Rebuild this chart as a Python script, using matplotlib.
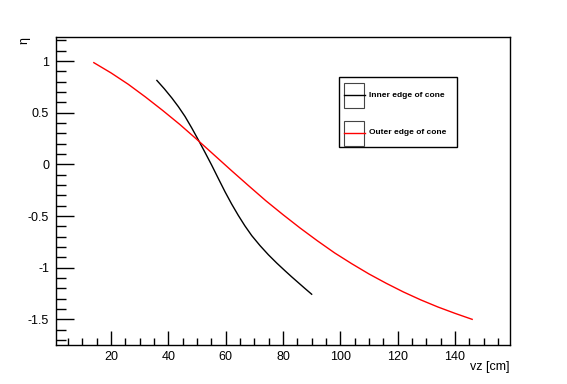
import matplotlib
matplotlib.use("Agg")
import matplotlib.pyplot as plt
from matplotlib.ticker import MultipleLocator
from matplotlib.patches import Rectangle
from matplotlib.lines import Line2D

plt.rcParams['font.family'] = ['Liberation Sans', 'DejaVu Sans']

# Inner edge of cone (black)
inner_vz = [36.0, 38.6, 41.2, 43.5, 45.8, 48.1, 50.45, 52.8, 55.1, 57.4, 59.8, 62.1,
            64.4, 66.7, 69.1, 72.0, 74.9, 77.8, 80.7, 83.0, 85.3, 87.6, 90.0]
inner_eta = [0.812, 0.731, 0.643, 0.558, 0.464, 0.355, 0.237, 0.115, -0.007, -0.135,
             -0.267, -0.385, -0.494, -0.595, -0.69, -0.787, -0.875, -0.955, -1.03,
             -1.088, -1.144, -1.200, -1.257]

# Outer edge of cone (red)
outer_vz = [14.0, 20.0, 26.0, 32.0, 38.0, 44.0, 50.0, 56.0, 62.0, 68.0, 74.0, 80.0,
            86.0, 92.0, 98.0, 104.0, 110.0, 116.0, 122.0, 128.0, 134.0, 140.0, 146.0]
outer_eta = [0.984, 0.885, 0.775, 0.652, 0.522, 0.386, 0.240, 0.09, -0.06, -0.207,
             -0.352, -0.487, -0.617, -0.740, -0.857, -0.962, -1.061, -1.151, -1.235,
             -1.311, -1.380, -1.442, -1.50]

legend_labels = ["Inner edge of cone", "Outer edge of cone"]
legend_colors = ["black", "red"]

W, H = 567, 384
fig = plt.figure(figsize=(W / 100, H / 100), dpi=100)
fig.patch.set_facecolor('white')
L, R, T, B = 56, 510, 37, 345
ax = fig.add_axes([L / W, (H - B) / H, (R - L) / W, (B - T) / H])

ax.plot(inner_vz, inner_eta, color='black', lw=1.0)
ax.plot(outer_vz, outer_eta, color='red', lw=1.0)

# ROOT-style range: data range +/- 10%
xall = inner_vz + outer_vz
yall = inner_eta + outer_eta
dx = max(xall) - min(xall)
dy = max(yall) - min(yall)
ax.set_xlim(min(xall) - 0.1 * dx, max(xall) + 0.1 * dx)
ax.set_ylim(min(yall) - 0.1 * dy, max(yall) + 0.1 * dy)

ax.xaxis.set_major_locator(MultipleLocator(20))
ax.xaxis.set_minor_locator(MultipleLocator(5))
ax.yaxis.set_major_locator(MultipleLocator(0.5))
ax.yaxis.set_minor_locator(MultipleLocator(0.1))
ax.yaxis.set_major_formatter(plt.FuncFormatter(lambda v, p: ('%g' % v) if abs(v) > 1e-9 else '0'))

ax.tick_params(axis='x', which='major', direction='in', length=10, width=1, labelsize=9, pad=4)
ax.tick_params(axis='x', which='minor', direction='in', length=5, width=1)
ax.tick_params(axis='y', which='major', direction='in', length=13, width=1, labelsize=9, pad=5)
ax.tick_params(axis='y', which='minor', direction='in', length=7, width=1)
for s in ax.spines.values():
    s.set_linewidth(1)
    s.set_color('black')

fig.text(R / W, 1 - 367 / H, "vz [cm]", ha='right', va='center', fontsize=9)
fig.text(24 / W, 1 - 37 / H, "η", ha='center', va='top', fontsize=9, rotation=90)

# legend box (pixel-positioned)
def px(x, y):
    return x / W, 1 - y / H

tf = fig.transFigure
lx0, ly0, lx1, ly1 = 339, 77, 457, 147
fig.patches.append(Rectangle(px(lx0, ly1), (lx1 - lx0) / W, (ly1 - ly0) / H,
                             transform=tf, fill=True, facecolor='white',
                             edgecolor='black', lw=1))
rows = [(83, 108, 95.3), (121, 146, 132.7)]
for (y0, y1, yl), lab, col in zip(rows, legend_labels, legend_colors):
    fig.patches.append(Rectangle(px(343.5, y1), (364.5 - 343.5) / W, (y1 - y0) / H,
                                 transform=tf, fill=False, edgecolor='#444444', lw=0.8))
    x0, yy = px(343.5, yl)
    x1, _ = px(364.5, yl)
    fig.lines.append(Line2D([x0, x1], [yy, yy], transform=tf, color=col, lw=1))
    fig.text(369 / W, yy, lab, ha='left', va='center', fontsize=6, fontweight='bold')

fig.savefig("out.png", dpi=100)
